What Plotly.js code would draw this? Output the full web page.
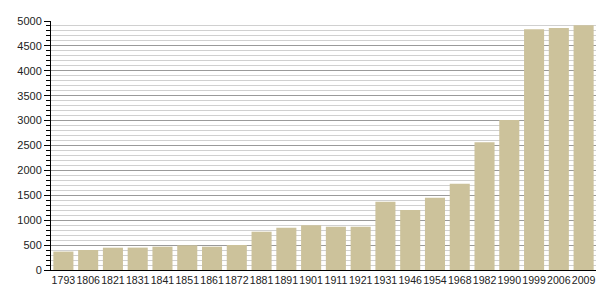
<!DOCTYPE html>
<html>
<head>
<meta charset="utf-8">
<script src="https://cdn.plot.ly/plotly-3.0.1.min.js"></script>
<style>html,body{margin:0;padding:0;background:#fff;}#chart{width:605px;height:300px;}</style>
</head>
<body>
<div id="chart"></div>
<script>
const years = ["1793","1806","1821","1831","1841","1851","1861","1872","1881","1891","1901","1911","1921","1931","1946","1954","1968","1982","1990","1999","2006","2009"];
const population = [370,402,448,450,468,496,468,502,769,850,897,870,868,1372,1205,1452,1733,2564,3010,4833,4859,4913];
const yTicks = [0,500,1000,1500,2000,2500,3000,3500,4000,4500,5000];

Plotly.newPlot('chart', [{
  type: 'bar',
  x: years,
  y: population,
  marker: {color: '#ccc29b', line: {width: 0}},
  hoverinfo: 'x+y'
}], {
  width: 605, height: 300,
  margin: {l: 51, r: 9, t: 21, b: 30, pad: 0},
  paper_bgcolor: '#fff', plot_bgcolor: '#fff',
  bargap: 0.19,
  showlegend: false,
  font: {family: 'Liberation Sans, Arial, sans-serif', size: 11, color: '#222'},
  xaxis: {
    type: 'category',
    showline: true, linecolor: '#000', linewidth: 1,
    ticks: '', showgrid: false, zeroline: false,
    tickangle: 0,
    tickfont: {size: 10.6, color: '#222'},
    range: [-0.5, 21.5], fixedrange: true
  },
  yaxis: {
    range: [0, 5000],
    tickvals: yTicks,
    ticktext: yTicks.map(String),
    showline: true, linecolor: '#000', linewidth: 1,
    ticks: 'outside', ticklen: 6, tickcolor: '#000', tickwidth: 1,
    showgrid: true, gridcolor: '#9a9a9a', gridwidth: 1,
    zeroline: false,
    minor: {dtick: 100, ticks: 'outside', ticklen: 4, tickcolor: '#000', showgrid: true, gridcolor: '#d0d0d0', gridwidth: 1},
    tickfont: {size: 11, color: '#222'},
    fixedrange: true
  }
}, {displayModeBar: false, staticPlot: true});
</script>
</body>
</html>
